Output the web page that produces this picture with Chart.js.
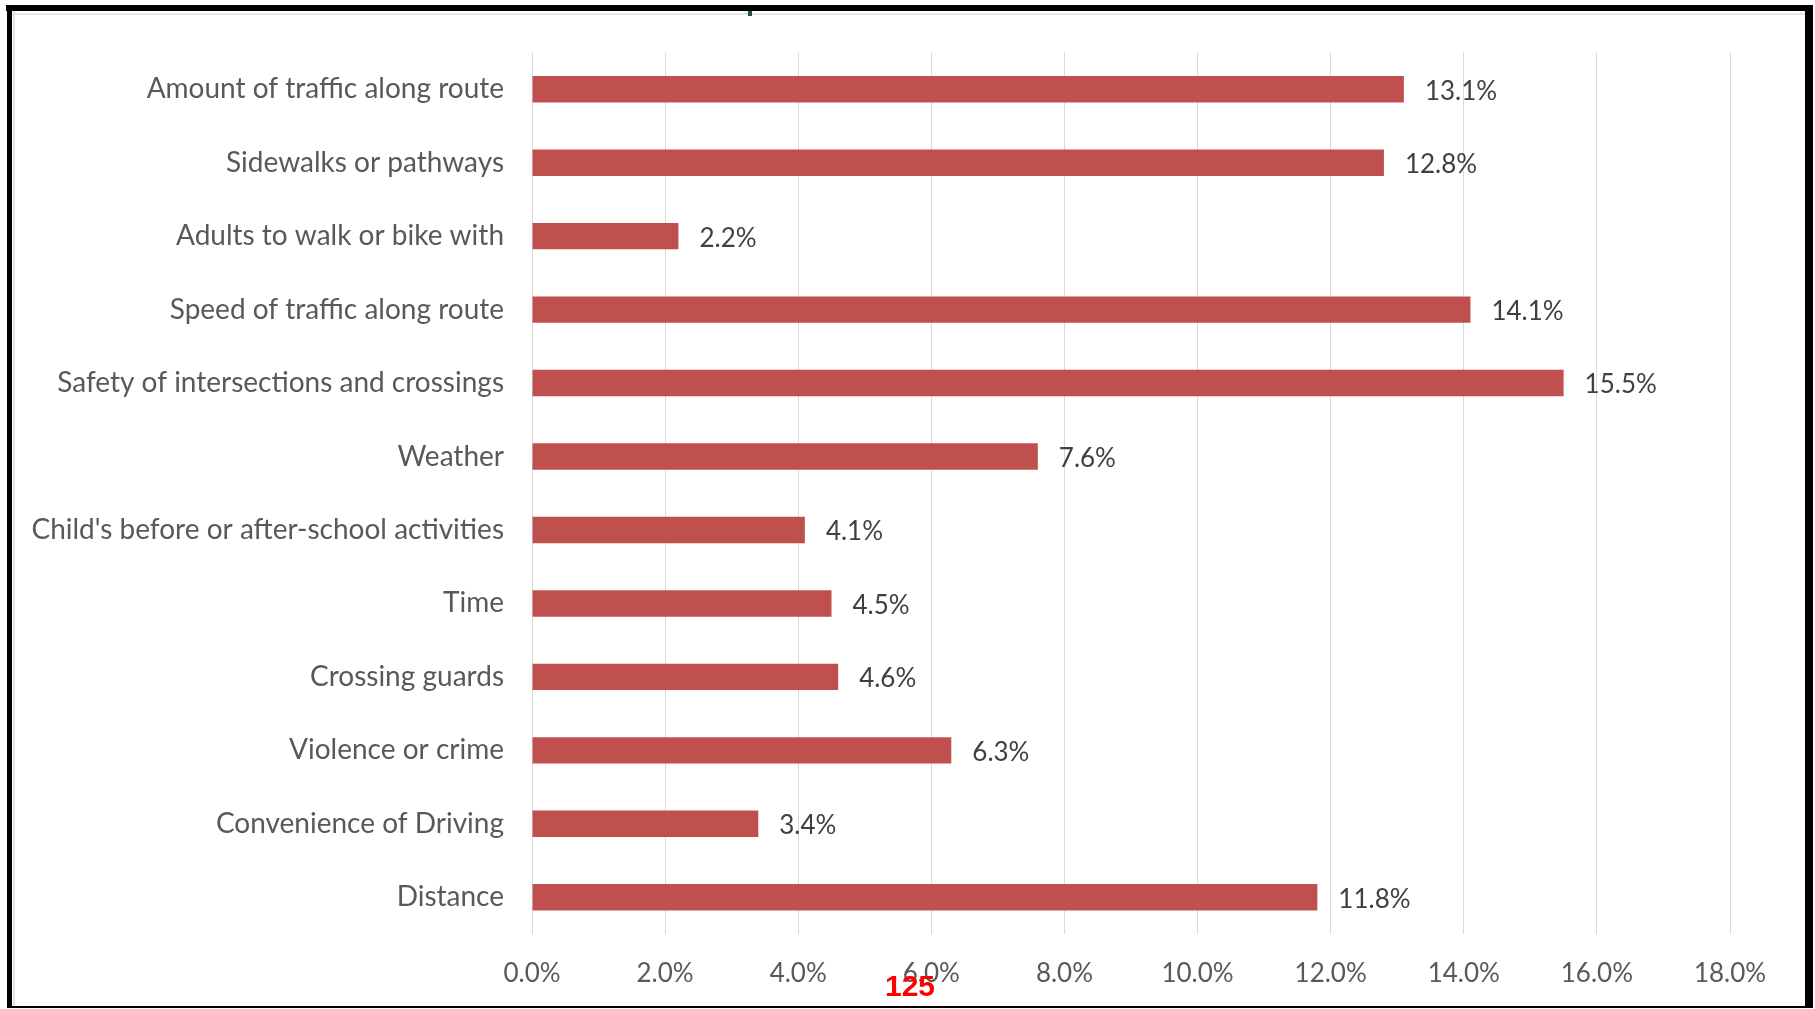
<!DOCTYPE html>
<html>
<head>
<meta charset="utf-8">
<script src="https://cdn.jsdelivr.net/npm/chart.js@4.4.1/dist/chart.umd.min.js"></script>
<style>
  html, body { margin: 0; padding: 0; background: #fff; }
  canvas { display: block; }
</style>
</head>
<body>
<canvas id="chart" width="1815" height="1009"></canvas>
<script>
const categories = [
  'Amount of traffic along route',
  'Sidewalks or pathways',
  'Adults to walk or bike with',
  'Speed of traffic along route',
  'Safety of intersections and crossings',
  'Weather',
  "Child's before or after-school activities",
  'Time',
  'Crossing guards',
  'Violence or crime',
  'Convenience of Driving',
  'Distance'
]
const percentages = [13.1, 12.8, 2.2, 14.1, 15.5, 7.6, 4.1, 4.5, 4.6, 6.3, 3.4, 11.8]
const xTicks = [0, 2, 4, 6, 8, 10, 12, 14, 16, 18]
const pageNumber = '125'

// value labels to the right of each bar
const valueLabels = {
    id: 'valueLabels',
    afterDatasetsDraw(chart) {
        const ctx = chart.ctx
        const meta = chart.getDatasetMeta(0)
        ctx.save()
        ctx.font = '26px Lato'
        ctx.fillStyle = '#404040'
        ctx.textAlign = 'left'
        ctx.textBaseline = 'middle'
        meta.data.forEach((bar, i) => {
            ctx.fillText(percentages[i].toFixed(1) + '%', bar.x + 21, bar.y + 2)
        })
        ctx.restore()
    }
}

// black frame round the picture and the page number
const frame = {
    id: 'frame',
    afterDraw(chart) {
        const ctx = chart.ctx
        ctx.save()
        ctx.fillStyle = '#e6e6e6'
        ctx.fillRect(12, 13, 1793, 2)
        ctx.fillRect(13, 11, 2, 995)
        ctx.fillStyle = '#000'
        ctx.fillRect(6, 5, 1807, 6)
        ctx.fillRect(7, 5, 5, 1003)
        ctx.fillRect(1805, 5, 8, 1003)
        ctx.fillRect(7, 1006, 1806, 2)
        ctx.fillStyle = '#2f4f4f'
        ctx.fillRect(748, 11, 4, 5)
        ctx.font = 'bold 30px "Liberation Sans"'
        ctx.fillStyle = '#ff0000'
        ctx.textAlign = 'center'
        ctx.textBaseline = 'middle'
        ctx.fillText(pageNumber, 910, 988)
        ctx.restore()
    }
}

const ctx = document.getElementById('chart').getContext('2d')
new Chart(ctx, {
    type: 'bar',
    data: {
        labels: categories,
        datasets: [
            {
                data: percentages,
                backgroundColor: '#c0504d',
                borderWidth: 0,
                categoryPercentage: 1,
                barPercentage: 0.36
            }
        ]
    },
    options: {
        indexAxis: 'y',
        responsive: false,
        animation: false,
        devicePixelRatio: 1,
        layout: {
            padding: { left: 0, top: 52.5, right: 85, bottom: 0 }
        },
        plugins: {
            legend: { display: false },
            tooltip: { enabled: false }
        },
        scales: {
            x: {
                min: 0,
                max: 18,
                afterBuildTicks: (scale) => {
                    scale.ticks = xTicks.map(v => ({ value: v }))
                },
                afterFit: (scale) => { scale.height = 75 },
                grid: { color: '#d9d9d9', lineWidth: 1, drawTicks: false },
                border: { display: false },
                ticks: {
                    padding: 24,
                    color: '#595959',
                    font: { family: 'Lato', size: 26 },
                    callback: v => v.toFixed(1) + '%'
                }
            },
            y: {
                afterFit: (scale) => { scale.width = 532 },
                grid: { display: false, drawTicks: false },
                border: { display: false },
                ticks: {
                    padding: 28,
                    color: '#595959',
                    font: { family: 'Lato', size: 28 }
                }
            }
        }
    },
    plugins: [valueLabels, frame]
})
</script>
</body>
</html>
